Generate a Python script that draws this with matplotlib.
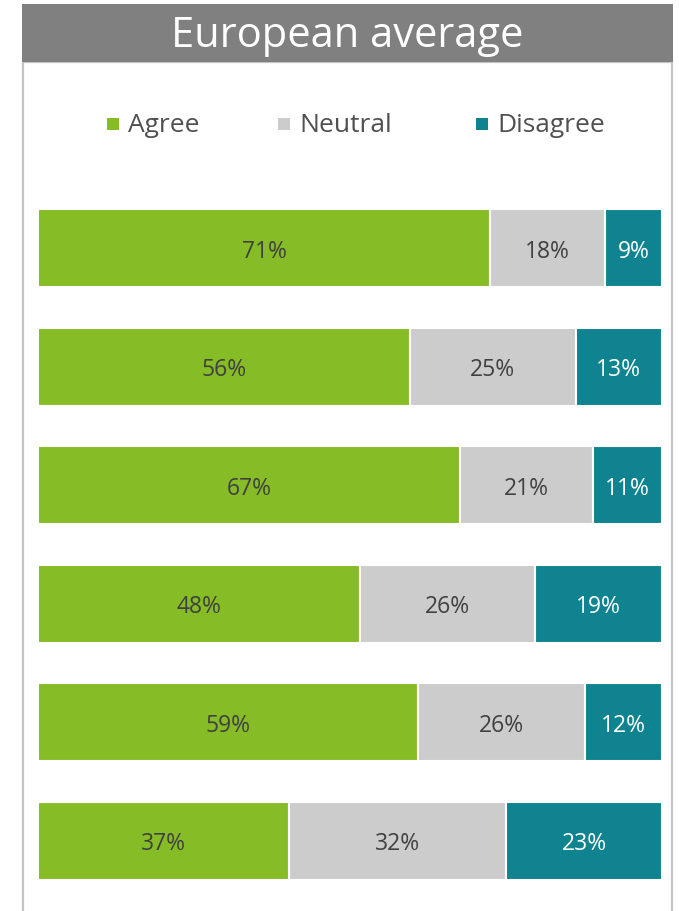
import matplotlib.pyplot as plt
from matplotlib.patches import Rectangle
import numpy as np

plt.rcParams['font.family'] = ['Open Sans', 'DejaVu Sans']

title = "European average"
series = ["Agree", "Neutral", "Disagree"]
agree = [71, 56, 67, 48, 59, 37]
neutral = [18, 25, 21, 26, 26, 32]
disagree = [9, 13, 11, 19, 12, 23]

colors = ["#86bc25", "#cccccc", "#0f838f"]
text_colors = ["#404040", "#404040", "#ffffff"]

W, H = 679, 912
fig = plt.figure(figsize=(W / 100, H / 100), dpi=100)


def fx(px):
    return px / W


def fy(py):
    return 1 - py / H


# outer box and title banner (behind the axes)
fig.patches.append(Rectangle((fx(23), fy(915)), fx(649), fy(63) - fy(915),
                             transform=fig.transFigure, facecolor="white",
                             edgecolor="#c4c4c4", linewidth=1.6, zorder=-2))
fig.patches.append(Rectangle((fx(22), fy(63)), fx(651), fy(5) - fy(63),
                             transform=fig.transFigure, facecolor="#808080",
                             edgecolor="none", zorder=-1))
fig.text(fx(347), fy(36), title, color="white", fontsize=30,
         ha="center", va="center")

# legend
legend_x = [107, 278, 476]
for name, c, x in zip(series, colors, legend_x):
    fig.patches.append(Rectangle((fx(x), fy(131)), fx(12), fy(119) - fy(131),
                                 transform=fig.transFigure, facecolor=c,
                                 edgecolor="none"))
    fig.text(fx(x + 21), fy(125), name, color="#505050", fontsize=19,
             ha="left", va="center")

# bars (normalised to the row total)
ax = fig.add_axes([fx(38), fy(901), fx(662) - fx(38), fy(190) - fy(901)])
ax.patch.set_alpha(0)
vals = np.array([agree, neutral, disagree], dtype=float)
shares = vals / vals.sum(axis=0)
y = np.arange(len(agree))
left = np.zeros(len(agree))
for i in range(3):
    ax.barh(y, shares[i], left=left, height=0.655, color=colors[i],
            edgecolor="white", linewidth=1.5)
    for j in range(len(agree)):
        ax.text(left[j] + shares[i][j] / 2, y[j] + 0.02, f"{int(vals[i][j])}%",
                ha="center", va="center", fontsize=16.5, color=text_colors[i])
    left += shares[i]

ax.set_xlim(0, 1)
ax.set_ylim(len(agree) - 0.5, -0.5)
ax.axis("off")

fig.savefig("out.png", dpi=100)
